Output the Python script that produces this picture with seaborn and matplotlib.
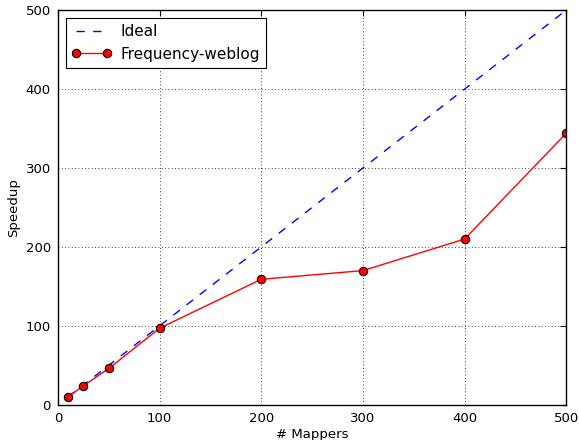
import matplotlib

matplotlib.use("Agg")

import matplotlib.pyplot as plt
import pandas as pd
import seaborn as sns

# Data
mappers = [10, 25, 50, 100, 200, 300, 400, 500]
ideal = [10, 25, 50, 100, 200, 300, 400, 500]
freq_weblog = [10, 24, 46, 97, 159, 170, 210, 344]

df = pd.DataFrame({"mappers": mappers, "ideal": ideal, "freq": freq_weblog})

sns.set_style("white")
plt.rcParams.update(
    {
        "font.family": ["DejaVu Sans"],
        "font.size": 9.5,
        "text.color": "black",
        "axes.labelcolor": "black",
        "xtick.color": "black",
        "ytick.color": "black",
        "xtick.direction": "in",
        "ytick.direction": "in",
        "xtick.top": True,
        "ytick.right": True,
        "xtick.major.size": 4,
        "ytick.major.size": 4,
        "axes.edgecolor": "black",
        "axes.linewidth": 1.0,
    }
)

fig = plt.figure(figsize=(5.79, 4.4), dpi=100)
ax = fig.add_axes([0.1, 0.08, 0.878, 0.897])

sns.lineplot(data=df, x="mappers", y="ideal", color="blue", linestyle=(0, (6, 6)),
             linewidth=1, label="Ideal", ax=ax)
sns.lineplot(data=df, x="mappers", y="freq", color="red", marker="o",
             markersize=6, markeredgecolor="black", markeredgewidth=0.8,
             linewidth=1, label="Frequency-weblog", ax=ax)

ax.set_xlim(0, 500)
ax.set_ylim(0, 500)
ax.set_xticks([0, 100, 200, 300, 400, 500])
ax.set_yticks([0, 100, 200, 300, 400, 500])
ax.grid(True, linestyle=(0, (1, 3)), color="black", linewidth=0.6)
ax.tick_params(labelsize=9.5, colors="black", pad=5)
ax.set_xlabel("# Mappers", fontsize=9.5, labelpad=2)
ax.set_ylabel("Speedup", fontsize=9.5, labelpad=4)

leg = ax.legend(loc="upper left", fontsize=11, frameon=True, fancybox=False,
                edgecolor="black", framealpha=1, borderpad=0.4, handlelength=2.6,
                handletextpad=0.6, numpoints=2)
leg.get_frame().set_linewidth(0.8)
for t in leg.get_texts():
    t.set_color("black")

fig.savefig("out.png", dpi=100)
